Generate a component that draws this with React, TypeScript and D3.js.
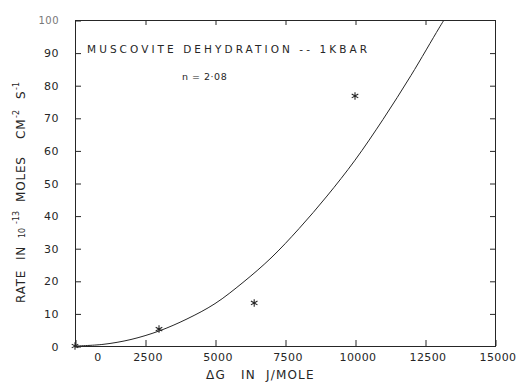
import React, { useEffect, useRef } from 'react';
import * as d3 from 'd3';

// fitted curve
const curveDG = [0, 1000, 2000, 3000, 4000, 5000, 6000, 7000, 8000, 9000, 10000, 11000, 12000, 13000, 13250];
const curveRate = [0, 0.5, 2.0, 4.6, 8.3, 13.0, 19.5, 27.0, 36.0, 46.0, 57.0, 69.5, 83.0, 97.5, 101];

// measured points (asterisks)
const pointDG = [0, 3000, 6400, 10000];
const pointRate = [0, 5.2, 13.2, 76.7];

const xTicks = [0, 2500, 5000, 7500, 10000, 12500, 15000];
const yTicks = [0, 10, 20, 30, 40, 50, 60, 70, 80, 90, 100];

const W = 517, H = 382;
const font = '"DejaVu Sans", sans-serif';
const ink = '#262626';

export default function App() {
  const ref = useRef<SVGSVGElement>(null);

  useEffect(() => {
    const svg = d3.select(ref.current);
    svg.selectAll('*').remove();

    const x = d3.scaleLinear().domain([0, 15000]).range([75, 495]);
    const y = d3.scaleLinear().domain([0, 100]).range([346, 20]);

    svg.append('defs').append('clipPath').attr('id', 'plotclip')
      .append('rect').attr('x', 75).attr('y', 20).attr('width', 420).attr('height', 326);

    // frame
    svg.append('rect')
      .attr('x', 75.5).attr('y', 20.5).attr('width', 420).attr('height', 326)
      .attr('fill', 'none').attr('stroke', ink).attr('stroke-width', 1);

    // bottom axis, ticks inward
    const bottom = svg.append('g').attr('transform', 'translate(0.5,346)')
      .call(d3.axisBottom(x).tickValues(xTicks).tickSizeInner(-6).tickSizeOuter(0).tickPadding(7)
        .tickFormat(d => String(d)));
    bottom.select('.domain').remove();
    bottom.selectAll('line').attr('stroke', ink);
    bottom.selectAll('text')
      .attr('font-family', font).attr('font-size', 11).attr('fill', ink)
      .attr('letter-spacing', 0.4)
      .attr('dx', (d: any) => (d === 0 ? 22 : 2));

    // top ticks
    const top = svg.append('g').attr('transform', 'translate(0.5,20)')
      .call(d3.axisTop(x).tickValues(xTicks.slice(1, -1)).tickSizeInner(-5).tickSizeOuter(0).tickFormat(() => ''));
    top.select('.domain').remove();
    top.selectAll('line').attr('stroke', ink);

    // left axis
    const left = svg.append('g').attr('transform', 'translate(75,0.5)')
      .call(d3.axisLeft(y).tickValues(yTicks).tickSizeInner(-6).tickSizeOuter(0).tickPadding(16)
        .tickFormat(d => String(d)));
    left.select('.domain').remove();
    left.selectAll('line').attr('stroke', ink);
    left.selectAll('text')
      .attr('font-family', font).attr('font-size', 11).attr('fill', ink)
      .attr('letter-spacing', 0.5);
    left.selectAll('.tick').filter((d: any) => d === 100).select('text')
      .attr('font-size', 10).attr('fill', '#777');

    // right ticks
    const right = svg.append('g').attr('transform', 'translate(495,0.5)')
      .call(d3.axisRight(y).tickValues(yTicks.slice(1, -1)).tickSizeInner(-5).tickSizeOuter(0).tickFormat(() => ''));
    right.select('.domain').remove();
    right.selectAll('line').attr('stroke', ink);

    // curve
    const curvePts = curveDG.map((g, i) => [g, curveRate[i]] as [number, number]);
    const line = d3.line<[number, number]>()
      .x(d => x(d[0])).y(d => y(d[1]))
      .curve(d3.curveCatmullRom.alpha(0.5));
    svg.append('path')
      .datum(curvePts)
      .attr('clip-path', 'url(#plotclip)')
      .attr('d', line)
      .attr('fill', 'none').attr('stroke', ink).attr('stroke-width', 1);

    // points
    const star = d3.symbol().type(d3.symbolAsterisk).size(40);
    svg.append('g').selectAll('path')
      .data(pointDG.map((g, i) => [g, pointRate[i]]))
      .join('path')
      .attr('transform', d => `translate(${x(d[0])},${y(d[1])})`)
      .attr('d', star)
      .attr('fill', 'none').attr('stroke', ink).attr('stroke-width', 1.1);

    // annotations
    svg.append('text')
      .attr('x', 87).attr('y', 53)
      .attr('font-family', font).attr('font-size', 10.5).attr('fill', ink)
      .attr('textLength', 280).attr('lengthAdjust', 'spacing')
      .style('white-space', 'pre')
      .text('MUSCOVITE DEHYDRATION -- 1KBAR');
    svg.append('text')
      .attr('x', 182).attr('y', 80)
      .attr('font-family', font).attr('font-size', 9.5).attr('fill', ink)
      .attr('letter-spacing', 0.5)
      .text('n = 2·08');

    // x label
    svg.append('text')
      .attr('x', 206).attr('y', 379)
      .attr('font-family', font).attr('font-size', 12).attr('fill', ink)
      .attr('letter-spacing', 1.2)
      .style('white-space', 'pre')
      .text('ΔG   IN  J/MOLE');

    // y label, pieces placed along the rotated baseline (start = screen y of the bottom end)
    const yPieces: [string, number, number, number][] = [
      // text, start y, font size, raise
      ['RATE', 303, 12, 0],
      ['IN', 260, 12, 0],
      ['10', 238, 8, 0],
      ['-13', 224, 8, 6],
      ['MOLES', 202, 12, 0],
      ['CM', 139, 12, 0],
      ['-2', 118, 8, 6],
      ['S', 99, 12, 0],
      ['-1', 90, 8, 6],
    ];
    const yl = svg.append('g').attr('transform', 'translate(25,0) rotate(-90)');
    yl.selectAll('text')
      .data(yPieces)
      .join('text')
      .attr('x', d => -d[1])
      .attr('y', d => -d[3])
      .attr('font-family', font).attr('font-size', d => d[2]).attr('fill', ink)
      .attr('letter-spacing', d => (d[2] > 10 ? 0.8 : 0))
      .text(d => d[0]);
  }, []);

  return (
    <svg ref={ref} width={W} height={H}
      style={{ position: 'absolute', left: 0, top: 0, background: '#fff' }} />
  );
}
